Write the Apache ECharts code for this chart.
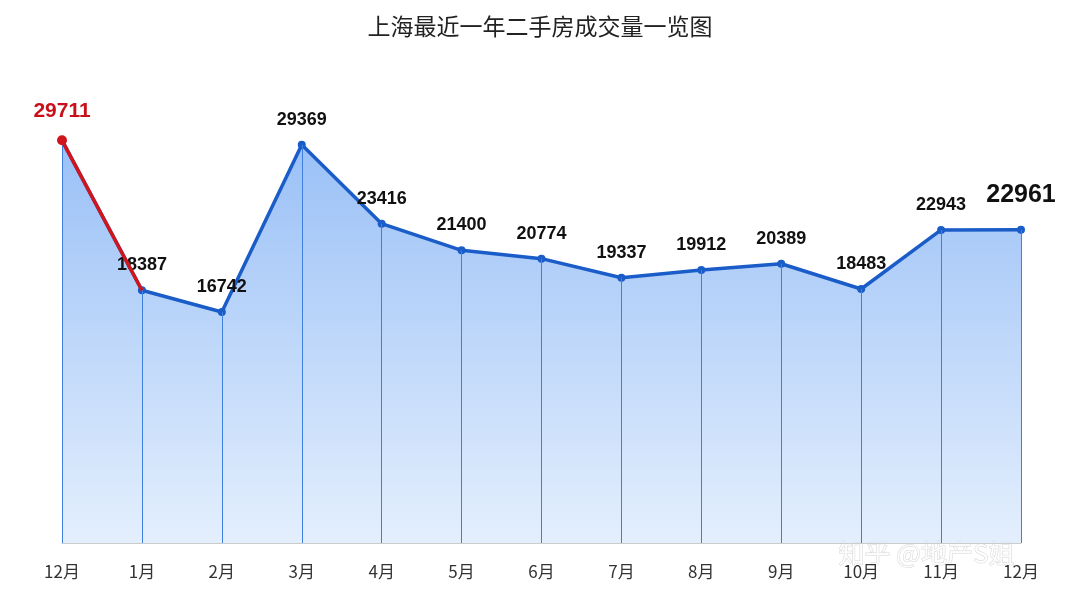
<!DOCTYPE html>
<html><head><meta charset="utf-8">
<script src="https://cdn.jsdelivr.net/npm/echarts@6/dist/echarts.min.js"></script>
<style>html,body{margin:0;background:#fff}#c{width:1080px;height:607px}</style>
</head><body><div id="c"></div>
<script>
const months = ['12月','1月','2月','3月','4月','5月','6月','7月','8月','9月','10月','11月','12月'];
const volumes = [29711,18387,16742,29369,23416,21400,20774,19337,19912,20389,18483,22943,22961];
const yMin = -700, yMax = 32000;

const chart = echarts.init(document.getElementById('c'));
const dropLines = volumes.map((v, i) => [{ coord: [i, v] }, { coord: [i, yMin] }]);
const redSeg = volumes.map((v, i) => i < 2 ? v : '-');
const lineData = volumes.map((v, i) => i === volumes.length - 1
  ? { value: v, label: { fontSize: 25, distance: 18 } } : v);

chart.setOption({
  backgroundColor: '#fff',
  title: { text: '上海最近一年二手房成交量一览图', left: 'center', top: 10,
    textStyle: { fontSize: 23, fontWeight: 'normal', color: '#222', fontFamily: 'Noto Sans CJK SC' } },
  grid: { left: 62, right: 59, top: 110, bottom: 64 },
  xAxis: { type: 'category', data: months, boundaryGap: false,
    axisLine: { onZero: false, lineStyle: { color: '#ccc' } }, axisTick: { show: false },
    axisLabel: { fontSize: 17, color: '#333', margin: 20, fontFamily: 'Noto Sans CJK SC' } },
  yAxis: { type: 'value', min: yMin, max: yMax, show: false, splitLine: { show: false } },
  series: [
    { type: 'line', data: lineData, symbol: 'circle', symbolSize: 8,
      lineStyle: { color: '#1a5cc8', width: 3.5 }, itemStyle: { color: '#1a5cc8' },
      areaStyle: { origin: 'start', color: new echarts.graphic.LinearGradient(0, 0, 0, 1, [
        { offset: 0, color: '#6ea5f3' }, { offset: 1, color: '#d8e8fc' }]) },
      label: { show: true, position: 'top', distance: 12, fontSize: 18, fontWeight: 'bold', color: '#111',
        formatter: p => p.dataIndex === 0 ? '' : p.value },
      markLine: { silent: true, symbol: 'none', label: { show: false },
        lineStyle: { color: '#3f7fe0', width: 1, type: 'solid' }, data: dropLines }
    },
    { type: 'line', data: redSeg, symbol: 'circle', z: 5,
      symbolSize: (v, p) => p.dataIndex === 0 ? 10 : 0,
      lineStyle: { color: '#d0151c', width: 3.5 }, itemStyle: { color: '#d0151c' },
      label: { show: true, position: 'top', distance: 14, fontSize: 21, fontWeight: 'bold', color: '#c8101a',
        formatter: p => p.dataIndex === 0 ? p.value : '' }
    }
  ],
  graphic: [
    { type: 'text', left: 838, top: 540, style: { text: '知乎 @地产S姐', fontSize: 26, fill: 'rgba(255,255,255,0.85)',
      stroke: 'rgba(120,120,120,0.3)', lineWidth: 1, fontFamily: 'Noto Sans CJK SC' } }
  ]
});
</script></body></html>
